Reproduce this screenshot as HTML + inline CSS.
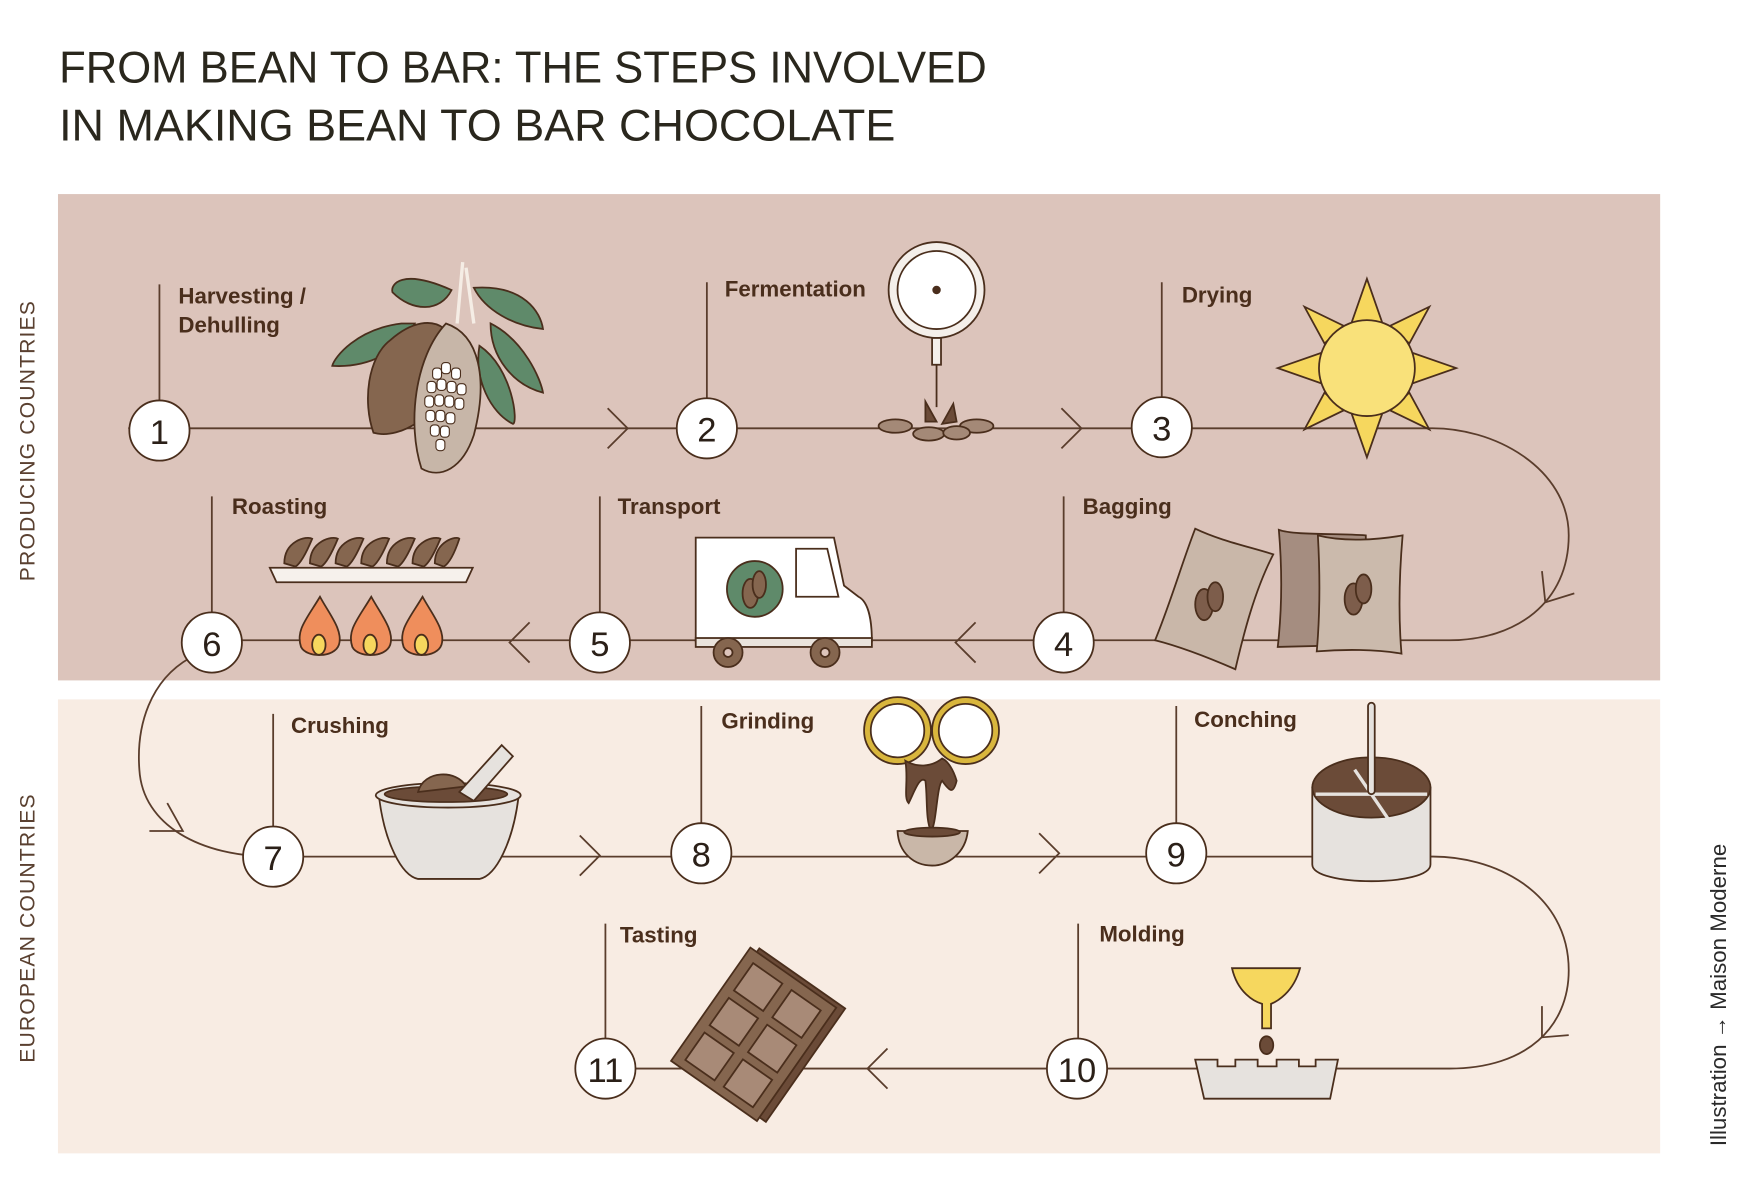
<!DOCTYPE html>
<html><head><meta charset="utf-8"><style>
html,body{margin:0;padding:0;background:#fff;}
svg{display:block;}
.lbl{font-family:"Liberation Sans",sans-serif;font-weight:bold;font-size:20px;fill:#4a2e1c;}
.num{font-family:"Liberation Sans",sans-serif;font-size:31px;fill:#2b2018;text-anchor:middle;}
.ln{stroke:#5a3d2c;stroke-width:1.6;fill:none;}
.o{stroke:#4a2e1c;stroke-width:1.6;}
</style></head><body>
<svg width="1746" height="1179" viewBox="0 0 1566 1057" preserveAspectRatio="none" xmlns="http://www.w3.org/2000/svg">
<rect width="1566" height="1057" fill="#fff"/>
<text x="53" y="74" font-family="Liberation Sans,sans-serif" font-size="40" fill="#2a271d" textLength="832" lengthAdjust="spacingAndGlyphs">FROM BEAN TO BAR: THE STEPS INVOLVED</text>
<text x="53" y="126" font-family="Liberation Sans,sans-serif" font-size="40" fill="#2a271d" textLength="750" lengthAdjust="spacingAndGlyphs">IN MAKING BEAN TO BAR CHOCOLATE</text>
<rect x="52" y="174" width="1437" height="436" fill="#dcc4bb"/>
<rect x="52" y="627" width="1437" height="407" fill="#f8ece3"/>
<text transform="translate(31,395) rotate(-90)" text-anchor="middle" font-family="Liberation Sans,sans-serif" font-size="19" fill="#5a4030" letter-spacing="1">PRODUCING COUNTRIES</text>
<text transform="translate(31,832) rotate(-90)" text-anchor="middle" font-family="Liberation Sans,sans-serif" font-size="19" fill="#5a4030" letter-spacing="1">EUROPEAN COUNTRIES</text>
<text transform="translate(1548,892) rotate(-90)" text-anchor="middle" font-family="Liberation Sans,sans-serif" font-size="20" fill="#2a2a2a">Illustration → Maison Moderne</text>

<path class="ln" d="M115,384 H1280 C1340,382 1407,420 1407,480 C1407,540 1360,574 1300,574 H190"/>
<path class="ln" d="M545,366 l18,18 l-18,18 M952,366 l18,18 l-18,18"/>
<path class="ln" d="M1383,512 l3,28 l26,-8"/>
<path class="ln" d="M475,558 l-18,18 l18,18 M875,558 l-18,18 l18,18"/>
<path class="ln" d="M170,590 C135,610 122,650 125,690 C128,740 180,768 245,768 H1280 C1340,766 1407,800 1407,870 C1407,920 1370,958 1300,958 H543"/>
<path class="ln" d="M150,720 l14,25 l-30,0"/>
<path class="ln" d="M520,749 l18,18 l-18,18 M932,747 l18,18 l-18,18"/>
<path class="ln" d="M1383,902 l0,28 l24,-2"/>
<path class="ln" d="M796,940 l-18,18 l18,18"/>
<path class="ln" d="M143,255V360 M634,253V358 M1042,253V357 M954,445V550 M538,445V550 M190,445V550 M245,640V742 M629,633V738 M1055,633V738 M967,828V931 M543,828V931"/>

<g class="o">
<path d="M405,260 C360,240 350,255 352,262 C370,280 395,280 405,260Z" fill="#5f8a6a"/>
<path d="M360,290 C320,295 300,320 298,328 C330,330 360,315 372,290Z" fill="#5f8a6a"/>
<path d="M425,258 C470,255 485,280 487,295 C460,292 435,278 425,258Z" fill="#5f8a6a"/>
<path d="M440,290 C470,305 485,340 487,352 C460,345 440,320 440,290Z" fill="#5f8a6a"/>
<path d="M430,310 C460,330 465,380 460,380 C440,370 425,340 430,310Z" fill="#5f8a6a"/>
<path d="M415,235 L410,290 M418,240 L425,290" stroke-width="3" stroke="#f5ede5"/>
<path d="M350,305 C390,270 420,300 405,340 C395,370 360,395 335,388 C325,360 330,320 350,305Z" fill="#85664f"/>
<path d="M400,290 C430,300 438,340 425,390 C415,420 395,430 378,420 C365,380 372,320 400,290Z" fill="#c7b6a8"/>
<g fill="#fff" stroke-width="1">
<rect x="388" y="330" width="8" height="10" rx="3"/><rect x="396" y="325" width="8" height="10" rx="3"/><rect x="405" y="330" width="8" height="10" rx="3"/>
<rect x="383" y="342" width="8" height="10" rx="3"/><rect x="392" y="340" width="8" height="10" rx="3"/><rect x="401" y="342" width="8" height="10" rx="3"/><rect x="410" y="344" width="8" height="10" rx="3"/>
<rect x="381" y="355" width="8" height="10" rx="3"/><rect x="390" y="354" width="8" height="10" rx="3"/><rect x="399" y="355" width="8" height="10" rx="3"/><rect x="408" y="357" width="8" height="10" rx="3"/>
<rect x="382" y="368" width="8" height="10" rx="3"/><rect x="391" y="368" width="8" height="10" rx="3"/><rect x="400" y="370" width="8" height="10" rx="3"/>
<rect x="386" y="381" width="8" height="10" rx="3"/><rect x="395" y="382" width="8" height="10" rx="3"/><rect x="391" y="394" width="8" height="10" rx="3"/>
</g>
</g>
<g class="o">
<circle cx="840" cy="260" r="43" fill="#f4efea"/><circle cx="840" cy="260" r="35" fill="#fff"/>
<circle cx="840" cy="260" r="3" fill="#4a2e1c"/>
<rect x="836" y="303" width="8" height="24" fill="#f4efea"/><path d="M840,327V365"/>
<ellipse cx="803" cy="382" rx="15" ry="6" fill="#a48977"/><ellipse cx="876" cy="382" rx="15" ry="6" fill="#a48977"/>
<ellipse cx="833" cy="389" rx="14" ry="6" fill="#a48977"/><ellipse cx="858" cy="388" rx="12" ry="6" fill="#a48977"/>
<path d="M830,360 L840,378 L830,378Z M855,362 L845,380 L858,378Z" fill="#6b4b38"/>
</g>
<g class="o" fill="#f6d75e">
<polygon points="1226,250 1240,290 1212,290"/><polygon points="1226,410 1240,370 1212,370"/>
<polygon points="1146,330 1186,316 1186,344"/><polygon points="1306,330 1266,316 1266,344"/>
<polygon points="1170,275 1205,292 1188,308"/><polygon points="1282,275 1247,292 1264,308"/>
<polygon points="1170,385 1205,368 1188,352"/><polygon points="1282,385 1247,368 1264,352"/>
<circle cx="1226" cy="330" r="43" fill="#f9e17a"/>
</g>
<g class="o">
<path d="M1072,474 C1095,485 1120,490 1142,497 C1125,530 1115,570 1108,600 C1085,590 1060,580 1036,574 C1050,540 1060,505 1072,474Z" fill="#c9b7a9"/>
<ellipse cx="1080" cy="542" rx="8" ry="14" fill="#7d5d4b"/><ellipse cx="1090" cy="535" rx="7" ry="13" fill="#7d5d4b"/>
<path d="M1147,475 C1160,480 1200,478 1225,480 L1225,578 L1146,580 C1150,545 1150,510 1147,475Z" fill="#a58d80"/>
<path d="M1182,480 C1205,486 1235,484 1258,480 C1255,515 1254,550 1257,586 C1235,582 1205,582 1181,584 C1184,550 1184,515 1182,480Z" fill="#cbbaac"/>
<ellipse cx="1214" cy="537" rx="8" ry="14" fill="#7d5d4b"/><ellipse cx="1223" cy="528" rx="7" ry="13" fill="#7d5d4b"/>
</g>
<g class="o">
<path d="M624,482 H748 L757,525 L770,535 C780,540 782,560 782,575 H624Z" fill="#fff"/>
<path d="M714,492 H742 L752,535 H714Z" fill="#fff"/>
<rect x="624" y="572" width="158" height="8" fill="#eae3dc"/>
<circle cx="677" cy="528" r="25" fill="#5f8a6a"/><ellipse cx="673" cy="532" rx="7" ry="13" fill="#85664f"/><ellipse cx="681" cy="524" rx="6" ry="12" fill="#85664f"/>
<circle cx="653" cy="585" r="13" fill="#85664f"/><circle cx="653" cy="585" r="4" fill="#dcc4bb"/>
<circle cx="740" cy="585" r="13" fill="#85664f"/><circle cx="740" cy="585" r="4" fill="#dcc4bb"/>
</g>
<g class="o">
<g fill="#85664f">
<path d="M255,505 C255,485 275,480 280,483 C275,495 270,505 265,508Z"/><path d="M278,505 C278,485 298,480 303,483 C298,495 293,505 288,508Z"/>
<path d="M301,505 C301,485 321,480 326,483 C321,495 316,505 311,508Z"/><path d="M324,505 C324,485 344,480 349,483 C344,495 339,505 334,508Z"/>
<path d="M347,505 C347,485 367,480 372,483 C367,495 362,505 357,508Z"/><path d="M370,505 C370,485 390,480 395,483 C390,495 385,505 380,508Z"/>
<path d="M390,505 C390,485 410,480 412,483 C408,495 403,505 398,508Z"/>
</g>
<path d="M242,509 H424 L418,522 H248Z" fill="#f6f1ec"/>
<g fill="#ef8e5c"><path d="M287,535 C275,555 265,565 270,580 C275,590 300,590 304,578 C308,565 295,550 287,535Z"/>
<path d="M333,535 C321,555 311,565 316,580 C321,590 346,590 350,578 C354,565 341,550 333,535Z"/>
<path d="M379,535 C367,555 357,565 362,580 C367,590 392,590 396,578 C400,565 387,550 379,535Z"/></g>
<g fill="#f6d75e"><ellipse cx="286" cy="578" rx="6" ry="9"/><ellipse cx="332" cy="578" rx="6" ry="9"/><ellipse cx="378" cy="578" rx="6" ry="9"/></g>
</g>
<g class="o">
<path d="M340,715 H465 C460,755 445,785 430,788 H375 C360,785 345,755 340,715Z" fill="#e6e2de"/>
<ellipse cx="402" cy="713" rx="65" ry="11" fill="#e6e2de"/>
<ellipse cx="400" cy="712" rx="55" ry="7" fill="#6b4b38"/>
<path d="M375,710 C380,690 410,690 418,705Z" fill="#85664f"/>
<path d="M450,668 L460,678 L425,718 L412,710Z" fill="#e6e2de"/>
</g>
<g class="o">
<circle cx="805" cy="655" r="30" fill="#d9b63d"/><circle cx="805" cy="655" r="24" fill="#fff"/>
<circle cx="866" cy="655" r="30" fill="#d9b63d"/><circle cx="866" cy="655" r="24" fill="#fff"/>
<path d="M812,682 C815,700 810,715 815,720 C820,710 825,695 830,700 C832,715 830,735 835,745 C840,740 840,705 845,700 C852,710 855,712 858,700 C855,690 850,682 845,680 C835,688 822,688 812,682Z" fill="#6b4b38"/>
<path d="M805,745 H868 C866,765 850,776 836,776 C820,776 806,765 805,745Z" fill="#c9b7a8"/>
<ellipse cx="836" cy="746" rx="25" ry="4" fill="#6b4b38"/>
</g>
<g class="o">
<path d="M1177,706 V775 C1177,795 1283,795 1283,775 V706Z" fill="#e6e2de"/>
<ellipse cx="1230" cy="706" rx="53" ry="27" fill="#6b4b38"/>
<path d="M1180,712 H1280 M1230,712 L1247,737 M1215,690 L1230,712" stroke="#e6e2de" stroke-width="3"/>
<rect x="1227" y="630" width="6" height="82" rx="3" fill="#e6e2de"/>
</g>
<g class="o">
<path d="M1105,868 H1166 C1160,890 1145,898 1140,900 V922 H1132 V900 C1125,898 1110,890 1105,868Z" fill="#f6d75e"/>
<ellipse cx="1136" cy="937" rx="6" ry="8" fill="#6b4b38"/>
<path d="M1072,950 H1092 V956 H1108 V950 H1128 V956 H1145 V950 H1165 V956 H1180 V950 H1200 L1193,985 H1080Z" fill="#e6e2de"/>
</g>
<g class="o" transform="rotate(35 684 928)">
<rect x="637" y="866" width="94" height="124" fill="#6b4b38"/>
<rect x="630" y="870" width="94" height="124" fill="#85664f"/>
<g fill="#a88a77">
<rect x="640" y="880" width="32" height="30"/><rect x="682" y="880" width="32" height="30"/>
<rect x="640" y="918" width="32" height="30"/><rect x="682" y="918" width="32" height="30"/>
<rect x="640" y="956" width="32" height="30"/><rect x="682" y="956" width="32" height="30"/>
</g>
</g>

<g fill="#fff" stroke="#4a2e1c" stroke-width="1.6">
<circle cx="143" cy="386" r="27"/><circle cx="634" cy="384" r="27"/><circle cx="1042" cy="383" r="27"/>
<circle cx="954" cy="576" r="27"/><circle cx="538" cy="576" r="27"/><circle cx="190" cy="576" r="27"/>
<circle cx="245" cy="768" r="27"/><circle cx="629" cy="765" r="27"/><circle cx="1055" cy="765" r="27"/>
<circle cx="966" cy="958" r="27"/><circle cx="543" cy="958" r="27"/>
</g>
<g class="num">
<text x="143" y="398">1</text><text x="634" y="396">2</text><text x="1042" y="395">3</text>
<text x="954" y="588">4</text><text x="538" y="588">5</text><text x="190" y="588">6</text>
<text x="245" y="780">7</text><text x="629" y="777">8</text><text x="1055" y="777">9</text>
<text x="966" y="970">10</text><text x="543" y="970">11</text>
</g>
<g class="lbl">
<text x="160" y="272">Harvesting /</text><text x="160" y="298">Dehulling</text>
<text x="650" y="266">Fermentation</text><text x="1060" y="271">Drying</text>
<text x="971" y="461">Bagging</text><text x="554" y="461">Transport</text><text x="208" y="461">Roasting</text>
<text x="261" y="657">Crushing</text><text x="647" y="653">Grinding</text><text x="1071" y="652">Conching</text>
<text x="986" y="844">Molding</text><text x="556" y="845">Tasting</text>
</g>
</svg>
</body></html>
